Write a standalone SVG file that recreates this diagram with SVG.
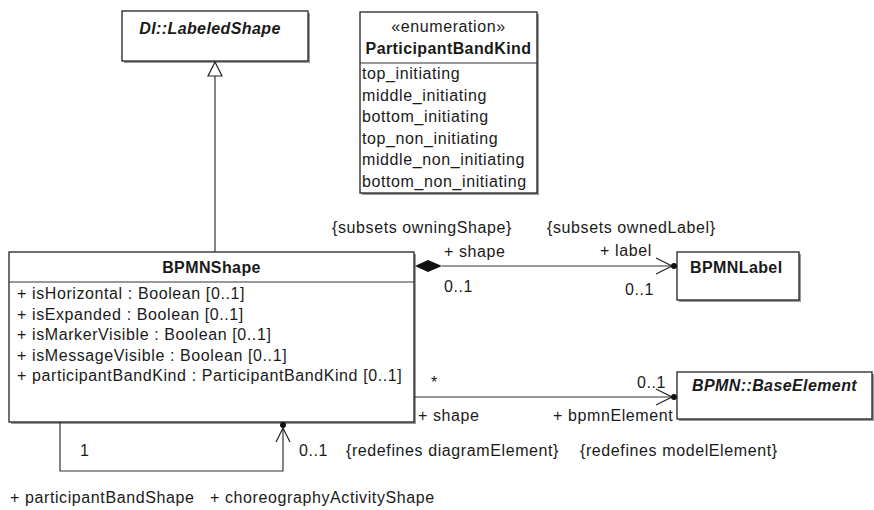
<svg xmlns="http://www.w3.org/2000/svg" width="874" height="510" viewBox="0 0 874 510">
<style>
text{font-family:"Liberation Sans",Arial,sans-serif;font-size:16px;letter-spacing:0.6px;fill:#1a1a1a}
.b{font-weight:bold;letter-spacing:0.4px}
.bi{font-weight:bold;font-style:italic;letter-spacing:0.4px}
.c{text-anchor:middle}
.box{fill:#fff;stroke:#222;stroke-width:1.3}
.sh{fill:#9a9a9a}
.ln{fill:none;stroke:#333;stroke-width:1.2}
.open{fill:none;stroke:#222;stroke-width:1.2}
</style>
<rect width="874" height="510" fill="#fff"/>

<g id="node-labeledshape">
<rect class="sh" x="124" y="13" width="186" height="50"/>
<rect class="box" x="122" y="11" width="186" height="50"/>
<text class="bi c" x="210" y="34">DI::LabeledShape</text>
</g>

<g id="node-participantbandkind">
<rect class="sh" x="362" y="14" width="177" height="181"/>
<rect class="box" x="360" y="12" width="177" height="181"/>
<line class="ln" x1="360" y1="63" x2="537" y2="63"/>
<text class="c" x="448.5" y="32">«enumeration»</text>
<text class="b c" x="448.5" y="54">ParticipantBandKind</text>
<text x="362" y="79">top_initiating</text>
<text x="362" y="100.5">middle_initiating</text>
<text x="362" y="122">bottom_initiating</text>
<text x="362" y="143.5">top_non_initiating</text>
<text x="362" y="165">middle_non_initiating</text>
<text x="362" y="186.5">bottom_non_initiating</text>
</g>

<g id="node-bpmnshape">
<rect class="sh" x="11" y="254" width="405" height="170"/>
<rect class="box" x="9" y="252" width="405" height="170"/>
<line class="ln" x1="9" y1="282" x2="414" y2="282"/>
<text class="b c" x="211.5" y="273">BPMNShape</text>
<text x="17" y="299">+ isHorizontal : Boolean [0..1]</text>
<text x="17" y="319.6">+ isExpanded : Boolean [0..1]</text>
<text x="17" y="340.2">+ isMarkerVisible : Boolean [0..1]</text>
<text x="17" y="360.8">+ isMessageVisible : Boolean [0..1]</text>
<text x="17" y="381.4">+ participantBandKind : ParticipantBandKind [0..1]</text>
</g>

<g id="node-bpmnlabel">
<rect class="sh" x="679" y="254" width="122" height="48"/>
<rect class="box" x="677" y="252" width="122" height="48"/>
<text class="b" x="690" y="273">BPMNLabel</text>
</g>

<g id="node-baseelement">
<rect class="sh" x="679" y="374" width="195" height="47"/>
<rect class="box" x="677" y="372" width="195" height="47"/>
<text class="bi" x="692" y="391">BPMN::BaseElement</text>
</g>

<g id="connectors">
<!-- generalization -->
<line class="ln" x1="215" y1="252" x2="215" y2="76"/>
<polygon points="215,62 208,76 222,76" fill="#fff" stroke="#222" stroke-width="1.2"/>

<!-- composition BPMNShape - BPMNLabel -->
<line class="ln" x1="442" y1="266" x2="673" y2="266"/>
<polygon points="415,266 428,260 442,266 428,272" fill="#111"/>
<polyline class="open" points="656,258 672,266 656,274"/>
<circle cx="674" cy="266" r="3" fill="#111"/>
<text x="332" y="233">{subsets owningShape}</text>
<text x="444" y="257">+ shape</text>
<text x="444" y="292">0..1</text>
<text x="547" y="233">{subsets ownedLabel}</text>
<text x="600" y="256">+ label</text>
<text x="625" y="295">0..1</text>

<!-- association BPMNShape - BaseElement -->
<line class="ln" x1="414" y1="397" x2="673" y2="397"/>
<polyline class="open" points="656,389 672,397 656,405"/>
<circle cx="674" cy="397" r="3" fill="#111"/>
<text x="431" y="388">*</text>
<text x="637" y="388">0..1</text>
<text x="418" y="421">+ shape</text>
<text x="553" y="421">+ bpmnElement</text>
<text x="580" y="456">{redefines modelElement}</text>

<!-- self association -->
<polyline class="ln" points="283,428 283,471 60,471 60,422"/>
<polyline class="open" points="276,442 283,428 290,442"/>
<circle cx="283" cy="425" r="3" fill="#111"/>
<text x="80" y="456">1</text>
<text x="299" y="456">0..1</text>
<text x="346" y="456">{redefines diagramElement}</text>
<text x="10" y="503">+ participantBandShape</text>
<text x="210" y="503">+ choreographyActivityShape</text>
</g>
</svg>
